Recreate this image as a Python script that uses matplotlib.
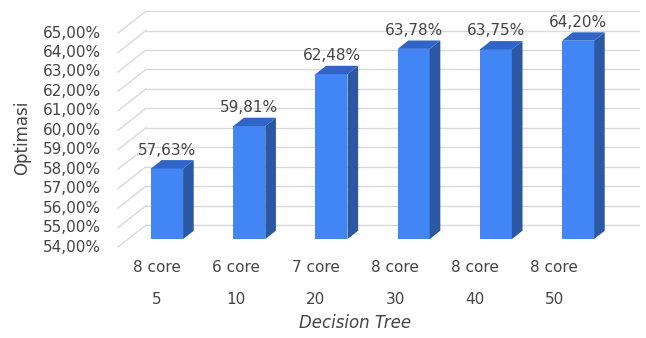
import numpy as np
import matplotlib
matplotlib.use("Agg")
import matplotlib.pyplot as plt
from matplotlib.patches import Polygon, Rectangle

plt.rcParams['font.family'] = ['DejaVu Sans']

# data
cores = ['8 core', '6 core', '7 core', '8 core', '8 core', '8 core']
trees = ['5', '10', '20', '30', '40', '50']
optimasi = [57.63, 59.81, 62.48, 63.78, 63.75, 64.20]
y_ticks = np.arange(54, 66, 1)

FRONT = '#4285F4'
SIDE = '#2B58A3'
TOP = '#3064C6'
GRID = '#D9D9D9'
TXT = '#444444'

# pixel scale of the front plane (x: px per category, y: px per percent)
PX_X = 82.2
PX_Y = 19.45
# depth of the floor, in data units
DX = 28 / PX_X
DY = 22 / PX_Y
F0, F1 = 0.36, 0.74   # bar front / back as a fraction of the depth
HW = 16 / PX_X        # half width of a bar
Y0 = 54.0

fig = plt.figure(figsize=(6.46, 3.38), dpi=100)
ax = fig.add_axes([0, 0, 1, 1])
ax.set_xlim(-157 / PX_X, (646 - 157) / PX_X)
ax.set_ylim(Y0 - (338 - 247) / PX_Y, Y0 + 247 / PX_Y)
ax.axis('off')

# walls: side-wall diagonals + back-wall lines
x_left = -39 / PX_X
x_right = (639 - 28 - 157) / PX_X
for v in y_ticks:
    ax.plot([x_left, x_left + DX], [v, v + DY], color=GRID, lw=1, zorder=1)
    ax.plot([x_left + DX, x_right + DX], [v + DY, v + DY], color=GRID, lw=1, zorder=1)
    ax.text(-56 / PX_X, v, f'{v:.2f}%'.replace('.', ','), ha='right', va='center',
            fontsize=11, color=TXT)

# 3d columns
for i, val in enumerate(optimasi):
    fx, fy = F0 * DX, F0 * DY
    bx, by = F1 * DX, F1 * DY
    l, r = i - HW, i + HW
    ax.add_patch(Rectangle((l + fx, Y0 + fy), 2 * HW, val - Y0, facecolor=FRONT,
                           edgecolor='none', zorder=3))
    ax.add_patch(Polygon([(r + fx, Y0 + fy), (r + bx, Y0 + by), (r + bx, val + by),
                          (r + fx, val + fy)], closed=True, facecolor=SIDE,
                         edgecolor='none', zorder=3))
    ax.add_patch(Polygon([(l + fx, val + fy), (r + fx, val + fy), (r + bx, val + by),
                          (l + bx, val + by)], closed=True, facecolor=TOP,
                         edgecolor='none', zorder=3))
    ax.annotate(f'{val:.2f}%'.replace('.', ','), (i + fx, val + fy),
                xytext=(0, 13.3), textcoords='offset points', ha='center',
                va='center', fontsize=11, color=TXT, zorder=4)

# category labels (two rows)
lab_x = (np.arange(len(cores)) * 79.4) / PX_X
for x, c, t in zip(lab_x, cores, trees):
    ax.text(x, Y0 - 20 / PX_Y, c, ha='center', va='center', fontsize=11, color=TXT)
    ax.text(x, Y0 - 53 / PX_Y, t, ha='center', va='center', fontsize=11, color=TXT)

ax.text((355 - 157) / PX_X, Y0 - 76 / PX_Y, 'Decision Tree', ha='center', va='center',
        fontsize=12, style='italic', color=TXT)
ax.text(-135 / PX_X, Y0 + 109 / PX_Y, 'Optimasi', ha='center', va='center',
        rotation=90, fontsize=12, color=TXT)

fig.savefig('out.png', dpi=100)
